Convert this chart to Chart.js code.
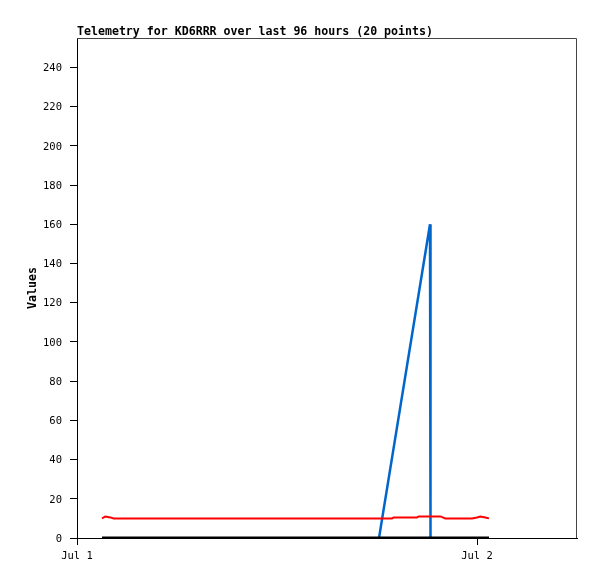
<!DOCTYPE html>
<html>
<head>
<meta charset="utf-8">
<script src="https://cdn.jsdelivr.net/npm/chart.js@4/dist/chart.umd.min.js"></script>
<style>
  html, body { margin: 0; padding: 0; background: #fff; }
  #wrap { width: 597px; height: 579px; }
</style>
</head>
<body>
<div id="wrap"><canvas id="c" width="597" height="579"></canvas></div>
<script>
// Hours since Jul 1 00:00
const xTickHours = [0, 24];
const xTickLabels = ["Jul 1", "Jul 2"];
const yTicks = [0, 20, 40, 60, 80, 100, 120, 140, 160, 180, 200, 220, 240];

const redHours  = [1.5, 1.7, 2.0, 2.2, 18.9, 19.0, 20.4, 20.5, 21.8, 22.1, 23.7, 24.0, 24.2, 24.5, 24.72];
const redValues = [10, 11, 10.5, 10, 10, 10.5, 10.5, 11, 11, 10, 10, 10.5, 11, 10.5, 10];

const blueHours  = [18.12, 21.18, 21.2, 21.22];
const blueValues = [0, 160, 80, 0];

const blackHours  = [1.5, 24.72];
const blackValues = [0, 0];

function pts(xs, ys) { return xs.map((x, i) => ({ x: x, y: ys[i] })); }

const frame = {
  id: 'frame',
  afterDraw(chart) {
    const { ctx, chartArea: a } = chart;
    ctx.save();
    ctx.strokeStyle = '#444444';
    ctx.lineWidth = 1;
    ctx.beginPath();
    ctx.moveTo(a.left, a.top + 0.5);
    ctx.lineTo(a.right - 0.5, a.top + 0.5);
    ctx.lineTo(a.right - 0.5, a.bottom);
    ctx.stroke();
    ctx.restore();
  }
};

new Chart(document.getElementById('c'), {
  type: 'line',
  data: {
    datasets: [
      { data: pts(blackHours, blackValues), borderColor: '#000000', borderWidth: 3 },
      { data: pts(redHours, redValues), borderColor: '#ff0000', borderWidth: 2 },
      { data: pts(blueHours, blueValues), borderColor: '#0066cc', borderWidth: 2.5 }
    ]
  },
  options: {
    responsive: false,
    animation: false,
    layout: { padding: { left: 0, right: 20, top: 0, bottom: 0 } },
    elements: { point: { radius: 0 }, line: { tension: 0 } },
    plugins: {
      legend: { display: false },
      tooltip: { enabled: false },
      title: {
        display: true,
        text: 'Telemetry for KD6RRR over last 96 hours (20 points)',
        align: 'start',
        fullSize: false,
        color: '#000',
        font: { family: 'DejaVu Sans Mono', size: 11.6, weight: 'bold', lineHeight: '13px' },
        padding: { top: 25, bottom: 0 }
      }
    },
    scales: {
      x: {
        type: 'linear',
        min: 0, max: 30,
        afterBuildTicks(s) { s.ticks = xTickHours.map(v => ({ value: v })); },
        afterFit(s) { s.height = 41; },
        ticks: {
          color: '#000',
          font: { family: 'DejaVu Sans Mono', size: 10.5 },
          padding: 5,
          maxRotation: 0,
          autoSkip: false,
          callback(v) { const i = xTickHours.indexOf(v); return i >= 0 ? xTickLabels[i] : ''; }
        },
        grid: { drawOnChartArea: false, drawTicks: true, tickLength: 7, color: '#000' },
        border: { display: true, color: '#000', width: 1 }
      },
      y: {
        min: 0, max: 255,
        afterBuildTicks(s) { s.ticks = yTicks.map(v => ({ value: v })); },
        afterFit(s) { s.width = 77; },
        ticks: {
          color: '#000',
          font: { family: 'DejaVu Sans Mono', size: 10.5 },
          padding: 8,
          labelOffset: 1,
          autoSkip: false
        },
        grid: { drawOnChartArea: false, drawTicks: true, tickLength: 7, color: '#000' },
        border: { display: true, color: '#000', width: 1 },
        title: {
          display: true,
          text: 'Values',
          color: '#000',
          font: { family: 'DejaVu Sans Mono', size: 11.6, weight: 'bold', lineHeight: '14px' },
          padding: { top: 26, bottom: 0 }
        }
      }
    }
  },
  plugins: [frame]
});
</script>
</body>
</html>
